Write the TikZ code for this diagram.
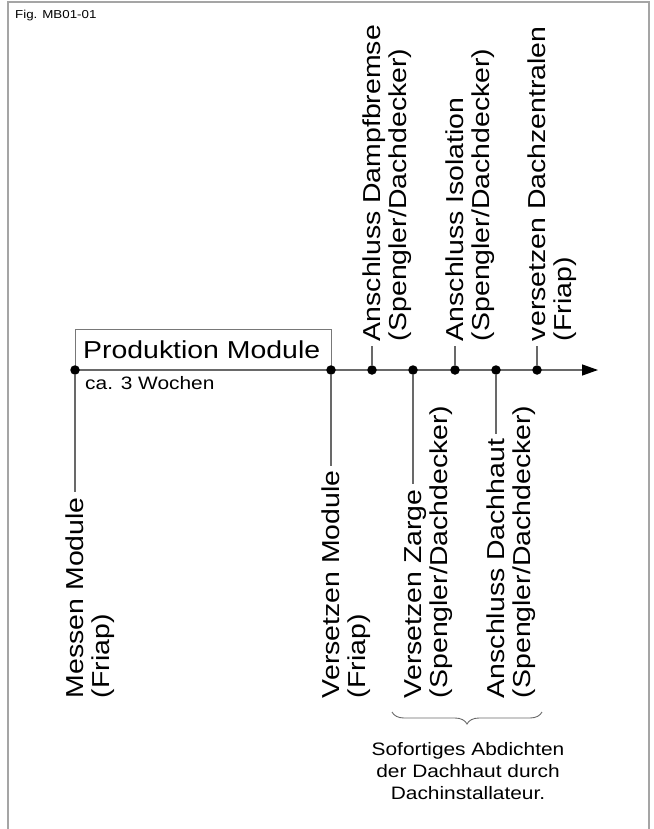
\documentclass[tikz,border=0pt]{standalone}
\usepackage{fontspec}
\setmainfont[FakeStretch=1.16]{Liberation Sans}
\usetikzlibrary{arrows.meta,decorations.pathreplacing,backgrounds}
\definecolor{lineg}{RGB}{105,105,105}
\definecolor{boxg}{RGB}{120,120,120}
\definecolor{frameg}{RGB}{165,165,165}
\begin{document}
\begin{tikzpicture}[x=1pt,y=-1pt,
  big/.style={font=\fontsize{24.5}{26}\selectfont},
  small/.style={font=\fontsize{18}{22}\selectfont},
  rlbl/.style={big, rotate=90, inner xsep=5pt, inner ysep=0pt, outer sep=0pt, text height=22.5pt, text depth=5pt},
  rlbltwo/.style={rlbl, anchor=base west},
  dot/.style={circle, fill=black, inner sep=0pt, minimum size=9.5pt},
  conn/.style={draw=lineg, line width=1.3pt},
  boxl/.style={draw=boxg, line width=1pt},
  ]
\useasboundingbox (0,0) rectangle (653,829);
\draw[frameg, line width=1.6pt] (8,829) -- (8,2) -- (649,2) -- (649,829);
\node[font=\fontsize{11.5}{13}\selectfont, anchor=base west, inner sep=0pt] (fig) at (15,19) {Fig. MB01-01};

% timeline dots
\node[dot] (d1) at (75,370) {};
\node[dot] (d2) at (331,370) {};
\node[dot] (d3) at (372,370) {};
\node[dot] (d4) at (413,370) {};
\node[dot] (d5) at (455,370) {};
\node[dot] (d6) at (496,370) {};
\node[dot] (d7) at (537,370) {};
\coordinate (tip) at (598,370);
\coordinate (bt) at (75,329);

% box texts
\node[big, anchor=base west, inner sep=0pt] (prod) at (83,358) {Produktion Module};
\node[small, anchor=base west, inner sep=0pt] (dur) at (85,389) {ca. 3 Wochen};

% labels below
\node[rlbl, anchor=west] (m1) at (75,703) {Messen Module};
\node[rlbltwo] (m2) at ([xshift=26pt]m1.base west) {(Friap)};
\node[rlbl, anchor=west] (v1) at (331,703) {Versetzen Module};
\node[rlbltwo] (v2) at ([xshift=26pt]v1.base west) {(Friap)};
\node[rlbl, anchor=west] (z1) at (413,703) {Versetzen Zarge};
\node[rlbltwo] (z2) at ([xshift=26pt]z1.base west) {(Spengler/Dachdecker)};
\node[rlbl, anchor=west] (h1) at (496,703) {Anschluss Dachhaut};
\node[rlbltwo] (h2) at ([xshift=26pt]h1.base west) {(Spengler/Dachdecker)};

% labels above
\node[rlbl, anchor=west] (a1) at (372,346) {Anschluss Dampfbremse};
\node[rlbltwo] (a2) at ([xshift=26pt]a1.base west) {(Spengler/Dachdecker)};
\node[rlbl, anchor=west] (i1) at (455,346) {Anschluss Isolation};
\node[rlbltwo] (i2) at ([xshift=26pt]i1.base west) {(Spengler/Dachdecker)};
\node[rlbl, anchor=west] (c1) at (537,346) {versetzen Dachzentralen};
\node[rlbltwo] (c2) at ([xshift=26pt]c1.base west) {(Friap)};

% brace and note
\coordinate (bl) at (392,712);
\coordinate (br) at (542,712);
\draw[lineg, line width=0.9pt, decorate, decoration={brace, amplitude=12pt}] (br) -- (bl);
\node[font=\fontsize{18}{22}\selectfont, align=center, anchor=north, inner sep=0pt] (note) at (468,742) {Sofortiges Abdichten\\der Dachhaut durch\\Dachinstallateur.};

\begin{scope}[on background layer]
\draw[boxl] (d1.center) -- (bt) -| (d2.center);
\draw[conn, -{Triangle[length=16pt,width=11pt,color=black]}] (d1.center) -- (tip);
\draw[conn] (d1) -- (m1.east);
\draw[conn] (d2) -- (v1.east);
\draw[conn] (d4) -- (z1.east);
\draw[conn] (d6) -- (h1.east);
\draw[conn] (d3) -- (a1.west);
\draw[conn] (d5) -- (i1.west);
\draw[conn] (d7) -- (c1.west);
\end{scope}
\end{tikzpicture}
\end{document}
